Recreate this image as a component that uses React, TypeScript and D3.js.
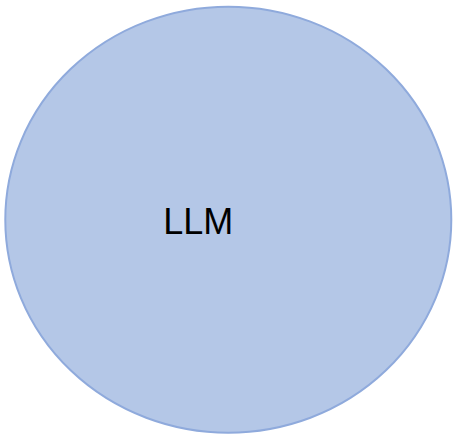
import React from "react";
import * as d3 from "d3";

const labels: string[] = ["LLM"];
const sizes: number[] = [1];

const W = 455;
const H = 438;

export default function App() {
  const x = d3.scaleLinear().domain([0, 1]).range([5.3, 451.3]);
  const y = d3.scaleLinear().domain([0, 1]).range([6.7, 432.7]);
  return (
    <svg
      width={W}
      height={H}
      style={{ position: "absolute", left: 0, top: 0, display: "block", background: "#ffffff" }}
    >
      {labels.map((lab, i) => {
        const cx = (x(0) + x(sizes[i])) / 2;
        const cy = (y(0) + y(sizes[i])) / 2;
        const rx = (x(sizes[i]) - x(0)) / 2;
        const ry = (y(sizes[i]) - y(0)) / 2;
        return (
          <g key={lab}>
            <ellipse cx={cx} cy={cy} rx={rx} ry={ry} fill="#B4C7E7" stroke="#8FAADC" strokeWidth={2} />
            <text
              x={cx - 30}
              y={cy + 14}
              textAnchor="middle"
              fontFamily="Liberation Sans, Arial, sans-serif"
              fontSize={36}
              fill="#000000"
            >
              {lab}
            </text>
          </g>
        );
      })}
    </svg>
  );
}
